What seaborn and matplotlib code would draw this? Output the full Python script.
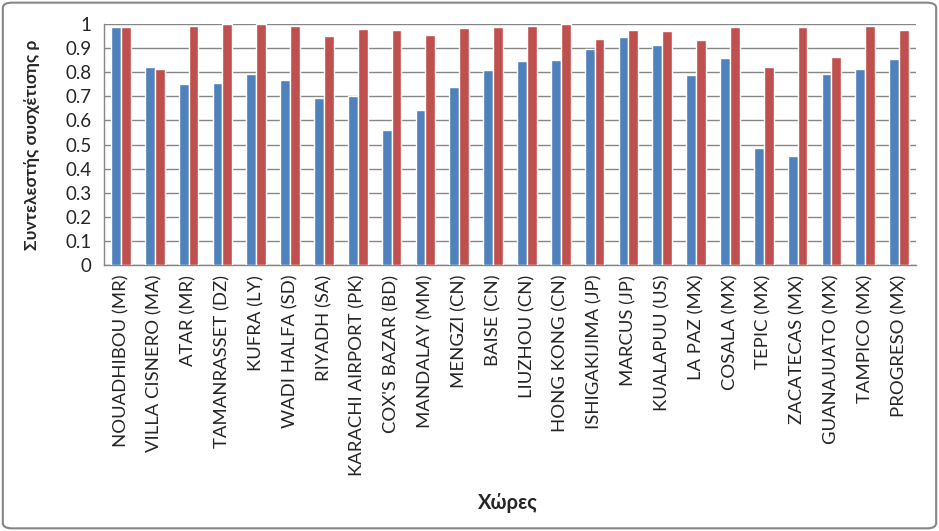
import numpy as np
import pandas as pd
import matplotlib
matplotlib.use("Agg")
import matplotlib.pyplot as plt
import seaborn as sns
from matplotlib.patches import FancyBboxPatch

stations = ["NOUADHIBOU (MR)", "VILLA CISNERO (MA)", "ATAR (MR)", "TAMANRASSET (DZ)",
            "KUFRA (LY)", "WADI HALFA (SD)", "RIYADH (SA)", "KARACHI AIRPORT (PK)",
            "COX'S BAZAR (BD)", "MANDALAY (MM)", "MENGZI (CN)", "BAISE (CN)",
            "LIUZHOU (CN)", "HONG KONG (CN)", "ISHIGAKIJIMA (JP)", "MARCUS (JP)",
            "KUALAPUU (US)", "LA PAZ (MX)", "COSALA (MX)", "TEPIC (MX)",
            "ZACATECAS (MX)", "GUANAJUATO (MX)", "TAMPICO (MX)", "PROGRESO (MX)"]
series1 = [0.989, 0.823, 0.752, 0.756, 0.794, 0.769, 0.694, 0.702,
           0.561, 0.644, 0.740, 0.810, 0.848, 0.852, 0.898, 0.947,
           0.914, 0.789, 0.860, 0.486, 0.453, 0.794, 0.814, 0.856]
series2 = [0.989, 0.814, 0.993, 1.000, 0.999, 0.993, 0.952, 0.981,
           0.976, 0.956, 0.985, 0.989, 0.993, 0.999, 0.939, 0.976,
           0.972, 0.935, 0.989, 0.823, 0.989, 0.864, 0.993, 0.976]
series_names = ["Σειρά1", "Σειρά2"]
yticks = [0, 0.1, 0.2, 0.3, 0.4, 0.5, 0.6, 0.7, 0.8, 0.9, 1]
ytick_labels = ["0", "0.1", "0.2", "0.3", "0.4", "0.5", "0.6", "0.7", "0.8", "0.9", "1"]

df = pd.DataFrame({
    "station": stations * 2,
    "value": series1 + series2,
    "series": [series_names[0]] * len(stations) + [series_names[1]] * len(stations),
})

sns.set_style("white")
plt.rcParams['font.family'] = ['Lato', 'DejaVu Sans']

fig = plt.figure(figsize=(9.39, 5.31), dpi=100)
ax = fig.add_axes([104/939, 1 - 265/531, (916-104)/939, (265-24)/531])

sns.barplot(data=df, x="station", y="value", hue="series",
            palette=["#4F81BD", "#C0504D"], width=0.58, saturation=1,
            legend=False, ax=ax, zorder=3)

grid_c = "#868686"
ax.set_ylim(0, 1)
ax.set_xlim(-0.5, len(stations) - 0.5)
ax.set_yticks(yticks)
ax.set_yticklabels(ytick_labels, fontsize=13.5)
ax.yaxis.grid(True, color=grid_c, linewidth=1.0, zorder=0)
ax.set_axisbelow(True)
ax.tick_params(axis="y", direction="out", length=5, color=grid_c, width=1, pad=4)

ax.set_xticks(range(len(stations)))
ax.set_xticklabels(stations, rotation=90, fontsize=13.3)
ax.tick_params(axis="x", which="major", length=0, pad=7)
ax.set_xticks(np.arange(-0.5, len(stations), 1), minor=True)
ax.tick_params(axis="x", which="minor", direction="out", length=5, color=grid_c, width=1)

for s in ["top", "right"]:
    ax.spines[s].set_visible(False)
for s in ["left", "bottom"]:
    ax.spines[s].set_color(grid_c)
    ax.spines[s].set_linewidth(1.0)

ax.set_xlabel("Χώρες", fontsize=14.5, fontweight="bold")
ax.xaxis.set_label_coords((508-104)/(916-104), (265-493)/(265-24))
ax.set_ylabel("Συντελεστής συσχέτισης ρ", fontsize=12.5, fontweight="bold")
ax.yaxis.set_label_coords((40-104)/(916-104), 0.5)

border = FancyBboxPatch((0.003, 0.005), 0.994, 0.99, boxstyle="round,pad=0,rounding_size=0.01",
                        transform=fig.transFigure, fill=False, edgecolor="#868686",
                        linewidth=1.5)
fig.patches.append(border)

fig.savefig("out.png", dpi=100)
